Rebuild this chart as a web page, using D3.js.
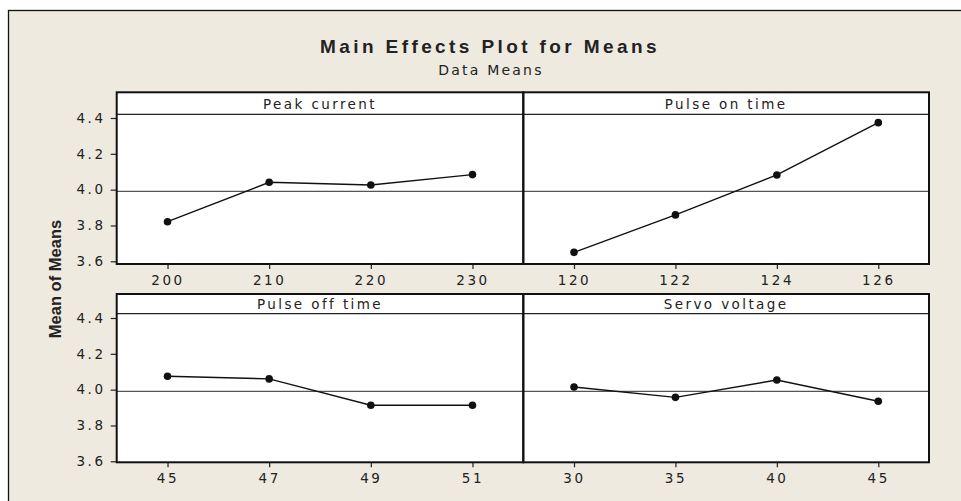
<!DOCTYPE html>
<html>
<head>
<meta charset="utf-8">
<script src="https://cdn.jsdelivr.net/npm/d3@7/dist/d3.min.js"></script>
<style>
  body { margin: 0; background: #fff; }
  text { fill: #222; }
</style>
</head>
<body>
<div id="chart"></div>
<script>
// factor names, levels and data means
var factors = ["Peak current", "Pulse on time", "Pulse off time", "Servo voltage"];
var peakLevels = ["200", "210", "220", "230"];
var peakMeans = [3.821, 4.041, 4.026, 4.084];
var onLevels = ["120", "122", "124", "126"];
var onMeans = [3.650, 3.859, 4.082, 4.374];
var offLevels = ["45", "47", "49", "51"];
var offMeans = [4.075, 4.060, 3.913, 3.913];
var servoLevels = ["30", "35", "40", "45"];
var servoMeans = [4.015, 3.957, 4.054, 3.935];
var yTicks = [3.6, 3.8, 4.0, 4.2, 4.4];
var grandMean = 3.99;

var width = 961, height = 501;
var bg = "#eeeae0";

var svg = d3.select("#chart").append("svg")
    .attr("width", width)
    .attr("height", height);

// beige frame
svg.append("rect")
    .attr("x", 8.5).attr("y", 10.5)
    .attr("width", 980).attr("height", 520)
    .attr("fill", bg)
    .attr("stroke", "#111")
    .attr("stroke-width", 1.3);

svg.append("text")
    .attr("x", 490).attr("y", 53)
    .attr("text-anchor", "middle")
    .style("font-family", "Liberation Sans, Arial, sans-serif")
    .style("font-weight", "bold")
    .style("font-size", "19px")
    .style("letter-spacing", "3.4px")
    .text("Main Effects Plot for Means");

svg.append("text")
    .attr("x", 491).attr("y", 75)
    .attr("text-anchor", "middle")
    .style("font-family", "DejaVu Sans, sans-serif")
    .style("font-size", "14px")
    .style("letter-spacing", "2.2px")
    .text("Data Means");

svg.append("text")
    .attr("transform", "translate(61,279) rotate(-90)")
    .attr("text-anchor", "middle")
    .style("font-family", "Liberation Sans, Arial, sans-serif")
    .style("font-weight", "bold")
    .style("font-size", "16.5px")
    .text("Mean of Means");

// panel layout: columns and rows
var cols = [[116.7, 523.3], [523.3, 929]];
var rows = [
  {top: 92.3, strip: 114.3, bottom: 264, y36: 261.3, y44: 118},
  {top: 294, strip: 313.7, bottom: 462.3, y36: 461.3, y44: 318}
];

var panels = [
  {name: factors[0], levels: peakLevels, means: peakMeans, c: 0, r: 0},
  {name: factors[1], levels: onLevels, means: onMeans, c: 1, r: 0},
  {name: factors[2], levels: offLevels, means: offMeans, c: 0, r: 1},
  {name: factors[3], levels: servoLevels, means: servoMeans, c: 1, r: 1}
];

var tickFont = "DejaVu Sans, sans-serif";

rows.forEach(function(row) {
  var y = d3.scaleLinear().domain([3.6, 4.4]).range([row.y36, row.y44]);
  var x0 = cols[0][0], x1 = cols[1][1];

  svg.append("rect")
      .attr("x", x0).attr("y", row.top)
      .attr("width", x1 - x0).attr("height", row.bottom - row.top)
      .attr("fill", "#fff");

  // y axis on the left
  var yAxis = svg.append("g")
      .attr("transform", "translate(" + x0 + ",0)")
      .call(d3.axisLeft(y).tickValues(yTicks).tickFormat(d3.format(".1f")).tickSize(6).tickPadding(5));
  yAxis.select(".domain").remove();
  yAxis.selectAll("line").attr("stroke", "#222").attr("stroke-width", 1.2);
  yAxis.selectAll("text")
      .style("font-family", tickFont)
      .style("font-size", "13.5px")
      .style("letter-spacing", "2.6px")
      .attr("fill", "#222");

  // reference line at the overall mean
  svg.append("line")
      .attr("x1", x0).attr("x2", x1)
      .attr("y1", y(grandMean)).attr("y2", y(grandMean))
      .attr("stroke", "#555")
      .attr("stroke-width", 1.2);

  // strip bottom line
  svg.append("line")
      .attr("x1", x0).attr("x2", x1)
      .attr("y1", row.strip).attr("y2", row.strip)
      .attr("stroke", "#222")
      .attr("stroke-width", 1.3);
});

panels.forEach(function(p) {
  var row = rows[p.r], col = cols[p.c];
  var y = d3.scaleLinear().domain([3.6, 4.4]).range([row.y36, row.y44]);
  var x = d3.scalePoint().domain(p.levels).range(col).padding(0.5);

  var xAxis = svg.append("g")
      .attr("transform", "translate(0," + row.bottom + ")")
      .call(d3.axisBottom(x).tickSize(5).tickPadding(6));
  xAxis.select(".domain").remove();
  xAxis.selectAll("line").attr("stroke", "#222").attr("stroke-width", 1.2);
  xAxis.selectAll("text")
      .style("font-family", tickFont)
      .style("font-size", "13.5px")
      .style("letter-spacing", "2.6px")
      .attr("fill", "#222");

  svg.append("text")
      .attr("x", (col[0] + col[1]) / 2)
      .attr("y", row.strip - 5)
      .attr("text-anchor", "middle")
      .style("font-family", tickFont)
      .style("font-size", "13.5px")
      .style("letter-spacing", "2.4px")
      .text(p.name);

  var pts = p.levels.map(function(l, i) { return [x(l), y(p.means[i])]; });

  svg.append("path")
      .attr("d", d3.line()(pts))
      .attr("fill", "none")
      .attr("stroke", "#111")
      .attr("stroke-width", 1.4);

  svg.selectAll(null)
      .data(pts)
      .enter().append("circle")
      .attr("cx", function(d) { return d[0]; })
      .attr("cy", function(d) { return d[1]; })
      .attr("r", 3.8)
      .attr("fill", "#111");

  // panel border
  svg.append("rect")
      .attr("x", col[0]).attr("y", row.top)
      .attr("width", col[1] - col[0]).attr("height", row.bottom - row.top)
      .attr("fill", "none")
      .attr("stroke", "#111")
      .attr("stroke-width", 2);
});
</script>
</body>
</html>
